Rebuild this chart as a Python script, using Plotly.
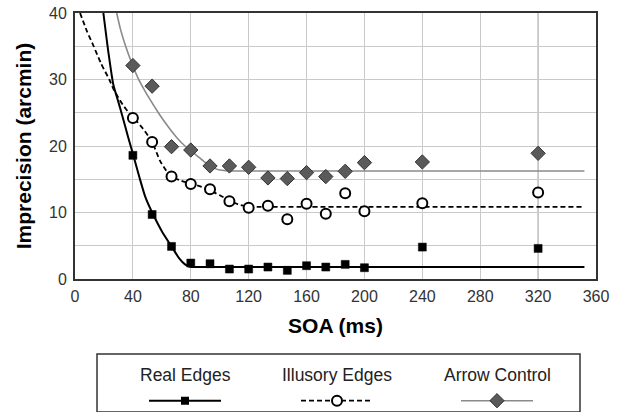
import plotly.graph_objects as go

# ---------------- data ----------------
soa = [40, 53.3, 66.7, 80, 93.3, 106.7, 120, 133.3, 146.7, 160, 173.3, 186.7, 200, 240, 320]
real_edges = [18.6, 9.7, 4.9, 2.4, 2.3, 1.5, 1.5, 1.8, 1.3, 2.0, 1.8, 2.2, 1.7, 4.8, 4.6]
illusory_edges = [24.2, 20.6, 15.4, 14.3, 13.5, 11.7, 10.7, 11.0, 9.0, 11.3, 9.8, 12.9, 10.2, 11.4, 13.0]
arrow_control = [32.1, 29.0, 19.9, 19.4, 17.0, 17.0, 16.8, 15.2, 15.1, 16.0, 15.4, 16.2, 17.5, 17.6, 18.9]

# fitted curves
real_fit_x = [19.6, 23, 26.5, 30, 33, 36.5, 40.3, 44.5, 48.5, 54, 60, 66.7, 72, 76, 79.5, 83, 90, 100, 352]
real_fit_y = [40, 34.2, 29.2, 26.6, 24.3, 21.5, 18.6, 15.3, 12.4, 9.7, 7.2, 4.9, 3.1, 2.2, 1.85, 1.8, 1.8, 1.8, 1.8]

ill_fit_x = [3.5, 8, 12.9, 18, 23.7, 26.5, 31, 35, 40.3, 47, 53.3, 58.7, 63, 66.8, 73, 80.6, 87, 93.5,
             100, 107, 113, 120, 127, 140, 352]
ill_fit_y = [40, 37.4, 35, 32.4, 30, 28.6, 26.9, 25.6, 24.3, 22.6, 20.6, 17.8, 16.3, 15.4, 14.8, 14.3,
             13.9, 13.3, 12.6, 11.8, 11.2, 10.9, 10.85, 10.85, 10.85]

arrow_fit_x = [28.8, 31.5, 35, 39, 43.8, 47.5, 51.8, 57.6, 62, 66.5, 71, 76, 80.6, 85, 89, 93.3, 97,
               100, 104, 110, 120, 352]
arrow_fit_y = [40, 37.5, 35, 32.6, 30.1, 28.6, 27.0, 25.0, 23.6, 22.3, 21.1, 20.0, 19.2, 18.4, 17.7,
               17.1, 16.6, 16.4, 16.3, 16.25, 16.25, 16.25]

x_ticks = [0, 40, 80, 120, 160, 200, 240, 280, 320, 360]
y_ticks = [0, 10, 20, 30, 40]

legend_names = ["Real Edges", "Illusory Edges", "Arrow Control"]

FONT = "Liberation Sans, Arial, sans-serif"
DIAMOND_FILL = "#5a5a5a"
ARROW_LINE = "#8a8a8a"

fig = go.Figure()

# fitted curves
fig.add_trace(go.Scatter(x=real_fit_x, y=real_fit_y, mode="lines",
                         line=dict(color="black", width=2, shape="spline", smoothing=0.6),
                         hoverinfo="skip"))
fig.add_trace(go.Scatter(x=ill_fit_x, y=ill_fit_y, mode="lines",
                         line=dict(color="black", width=1.8, dash="5px,3px", shape="spline", smoothing=0.6),
                         hoverinfo="skip"))
fig.add_trace(go.Scatter(x=arrow_fit_x, y=arrow_fit_y, mode="lines",
                         line=dict(color=ARROW_LINE, width=1.6, shape="spline", smoothing=0.6),
                         hoverinfo="skip"))

# data markers
fig.add_trace(go.Scatter(x=soa, y=arrow_control, mode="markers", name=legend_names[2],
                         marker=dict(symbol="diamond", size=11, color=DIAMOND_FILL,
                                     line=dict(color="#333333", width=1))))
fig.add_trace(go.Scatter(x=soa, y=illusory_edges, mode="markers", name=legend_names[1],
                         marker=dict(symbol="circle", size=10, color="white",
                                     line=dict(color="black", width=2))))
fig.add_trace(go.Scatter(x=soa, y=real_edges, mode="markers", name=legend_names[0],
                         marker=dict(symbol="square", size=8, color="black",
                                     line=dict(color="black", width=0.5))))

# ---------- custom legend (pixel-like helper axes below the plot) ----------
leg_centers = [185, 337, 497]
leg_half = 36
leg_line_y = 400.7
leg_text_y = 375

# Real edges sample
fig.add_trace(go.Scatter(x=[leg_centers[0] - leg_half, leg_centers[0] + leg_half], y=[leg_line_y] * 2,
                         mode="lines", line=dict(color="black", width=2), xaxis="x2", yaxis="y2",
                         hoverinfo="skip"))
fig.add_trace(go.Scatter(x=[leg_centers[0]], y=[leg_line_y], mode="markers", xaxis="x2", yaxis="y2",
                         marker=dict(symbol="square", size=8, color="black"), hoverinfo="skip"))
# Illusory edges sample
fig.add_trace(go.Scatter(x=[leg_centers[1] - leg_half, leg_centers[1] + leg_half], y=[leg_line_y] * 2,
                         mode="lines", line=dict(color="black", width=1.8, dash="5px,3px"),
                         xaxis="x2", yaxis="y2", hoverinfo="skip"))
fig.add_trace(go.Scatter(x=[leg_centers[1]], y=[leg_line_y], mode="markers", xaxis="x2", yaxis="y2",
                         marker=dict(symbol="circle", size=10, color="white",
                                     line=dict(color="black", width=2)), hoverinfo="skip"))
# Arrow control sample
fig.add_trace(go.Scatter(x=[leg_centers[2] - leg_half, leg_centers[2] + leg_half], y=[leg_line_y] * 2,
                         mode="lines", line=dict(color=ARROW_LINE, width=1.6), xaxis="x2", yaxis="y2",
                         hoverinfo="skip"))
fig.add_trace(go.Scatter(x=[leg_centers[2]], y=[leg_line_y], mode="markers", xaxis="x2", yaxis="y2",
                         marker=dict(symbol="diamond", size=11, color=DIAMOND_FILL,
                                     line=dict(color="#333333", width=1)), hoverinfo="skip"))

annotations = []
for name, cx in zip(legend_names, leg_centers):
    annotations.append(dict(x=cx, y=leg_text_y, xref="x2", yref="y2", text=name, showarrow=False,
                            font=dict(family=FONT, size=17.5, color="#222222"),
                            xanchor="center", yanchor="middle"))

shapes = [
    dict(type="rect", xref="x2", yref="y2", x0=97, x1=580, y0=354, y1=412,
         line=dict(color="#333333", width=1.5), fillcolor="rgba(0,0,0,0)", layer="below"),
    dict(type="line", xref="x", yref="paper", x0=320, x1=320, y0=0.3333, y1=1,
         line=dict(color="#8c8c8c", width=1), layer="below"),
]

fig.update_layout(
    width=624, height=414,
    margin=dict(l=75, r=28, t=13, b=2, autoexpand=False),
    paper_bgcolor="white", plot_bgcolor="white",
    showlegend=False,
    font=dict(family=FONT, color="#333333"),
    xaxis=dict(range=[0, 360], tickvals=x_ticks, showgrid=True, gridcolor="#c9c9c9", gridwidth=1,
               showline=True, linecolor="#333333", linewidth=2, mirror=True, zeroline=False,
               ticks="", tickfont=dict(size=16, color="#333333", family=FONT), ticklabelstandoff=2,
               title=dict(text="<b>SOA (ms)</b>", font=dict(size=21, color="black", family=FONT),
                          standoff=14),
               anchor="y", domain=[0, 1], automargin=False),
    yaxis=dict(range=[0, 40], tickvals=y_ticks, showgrid=True, gridcolor="#c9c9c9", gridwidth=1,
               minor=dict(dtick=5, showgrid=True, gridcolor="#c9c9c9", gridwidth=1),
               showline=True, linecolor="#333333", linewidth=2, mirror=True, zeroline=False,
               ticks="", tickfont=dict(size=16, color="#333333", family=FONT), ticklabelstandoff=3,
               title=dict(text="<b>Imprecision (arcmin)</b>", font=dict(size=21, color="black", family=FONT),
                          standoff=12),
               anchor="x", domain=[0.3333, 1], automargin=False),
    xaxis2=dict(range=[75, 596], domain=[0, 1], anchor="y2", visible=False, fixedrange=True),
    yaxis2=dict(range=[412, 292.3], domain=[0, 0.3], anchor="x2", visible=False, fixedrange=True),
    annotations=annotations,
    shapes=shapes,
)

fig.write_html("out.html")
